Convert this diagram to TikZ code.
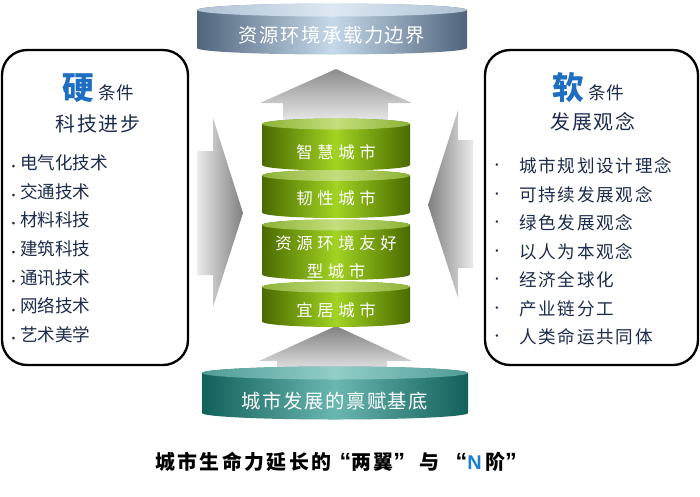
\documentclass[tikz,border=0pt]{standalone}
\usepackage{fontspec}
\setmainfont{Noto Sans CJK SC}
\newfontfamily\quotefont{Liberation Sans}
\usetikzlibrary{positioning}

% 颜色定义
\definecolor{itemnavy}{HTML}{1C2B4C}
\definecolor{headblue}{HTML}{1E6FC2}
\definecolor{nblue}{HTML}{1A7FD4}
\definecolor{slatedark}{HTML}{50647C}
\definecolor{slatelight}{HTML}{C6D9EA}
\definecolor{slatetop}{HTML}{DDE8F2}
\definecolor{olivedark}{HTML}{4A6A00}
\definecolor{olivelight}{HTML}{A2D322}
\definecolor{olivetop}{HTML}{C3DE7C}
\definecolor{olivetopd}{HTML}{8DB236}
\definecolor{tealdark}{HTML}{12605A}
\definecolor{teallight}{HTML}{6AB7B0}
\definecolor{tealtop}{HTML}{93CDC8}

% 标题中的西文引号
\newcommand\capq[1]{{\quotefont\bfseries\fontsize{20}{17}\selectfont#1}}

\begin{document}
\begin{tikzpicture}[x=0.03cm, y=-0.03cm,
  boxframe/.style={draw=black, line width=2pt, rounded corners=0.75cm},
  headchar/.style={text=headblue, font=\fontsize{27}{27}\selectfont\bfseries, inner sep=0pt},
  condtxt/.style={text=itemnavy, font=\fontsize{15}{15}\selectfont, inner sep=0pt},
  subtxt/.style={text=itemnavy, font=\fontsize{17}{17}\selectfont\addfontfeatures{LetterSpace=8}, inner sep=0pt},
  itemtxt/.style={anchor=west, text=itemnavy, font=\fontsize{15}{15}\selectfont, inner sep=0pt},
  ritemtxt/.style={anchor=west, text=itemnavy, font=\fontsize{15}{15}\selectfont\addfontfeatures{LetterSpace=10}, inner sep=0pt},
  disktxt/.style={text=white, font=\fontsize{16.5}{16.5}\selectfont\addfontfeatures{LetterSpace=8}, inner sep=0pt},
  segtxt/.style={text=white, align=center, font=\fontsize{14}{24}\selectfont\addfontfeatures{LetterSpace=28}, inner sep=0pt},
  captiontxt/.style={text=black, font=\fontsize{17}{17}\selectfont\bfseries\addfontfeatures{LetterSpace=12}, inner sep=0pt}
]
  \useasboundingbox (0,0) rectangle (700,496);

  % 参数定义
  \def\Tx{332}  \def\Trx{135} \def\Ttop{10}  \def\Tbot{48}  % 顶部圆盘
  \def\Bx{335}  \def\Brx{133} \def\Btop{373} \def\Bbot{413} % 底部圆盘
  \def\Gx{336}  \def\Grx{74}                                % 绿色柱体
  \def\ry{6.5}

  % 1. 灰色大箭头
  % 上箭头
  \shade[top color=black!45, bottom color=black!3]
    (\Gx,69) -- (412,103) -- (388,103) -- (388,130) -- (283,130) -- (283,103) -- (260,103) -- cycle;
  % 下箭头
  \shade[top color=black!50, bottom color=black!4]
    (\Gx,326) -- (412,361) -- (387,361) -- (387,378) -- (277,378) -- (277,361) -- (259,361) -- cycle;
  % 左箭头
  \shade[left color=black!8, right color=black!50]
    (197,151) -- (213,151) -- (213,118) -- (243,213) -- (213,307) -- (213,275) -- (197,275) -- cycle;
  % 右箭头
  \shade[left color=black!50, right color=black!8]
    (473,140) -- (458,140) -- (458,110) -- (428,205) -- (458,298) -- (458,268) -- (473,268) -- cycle;

  % 2. 顶部圆盘 (资源环境承载力边界)
  \shade[left color=slatedark, right color=slatedark, middle color=slatelight]
    (\Tx-\Trx,\Ttop) -- (\Tx-\Trx,\Tbot)
    arc[start angle=180, end angle=0, x radius=\Trx, y radius=\ry]
    -- (\Tx+\Trx,\Ttop)
    arc[start angle=0, end angle=-180, x radius=\Trx, y radius=\ry] -- cycle;
  \shade[left color=slatelight!80!slatedark, right color=slatelight!80!slatedark, middle color=slatetop]
    (\Tx,\Ttop) ellipse[x radius=\Trx, y radius=\ry];
  \node[disktxt] (bound) at (\Tx,35) {资源环境承载力边界};

  % 3. 底部圆盘 (城市发展的禀赋基底)
  \shade[left color=tealdark, right color=tealdark, middle color=teallight]
    (\Bx-\Brx,\Btop) -- (\Bx-\Brx,\Bbot)
    arc[start angle=180, end angle=0, x radius=\Brx, y radius=\ry]
    -- (\Bx+\Brx,\Btop)
    arc[start angle=0, end angle=-180, x radius=\Brx, y radius=\ry] -- cycle;
  \shade[left color=teallight!70!tealdark, right color=teallight!70!tealdark, middle color=tealtop]
    (\Bx,\Btop) ellipse[x radius=\Brx, y radius=\ry];
  \node[disktxt] (base) at (\Bx,401) {城市发展的禀赋基底};

  % 4. 绿色柱体 (四段)
  \foreach \t/\b in {124/165, 175.5/212.5, 225/274.5, 287/321.5} {
    \shade[left color=olivedark, right color=olivedark, middle color=olivelight]
      (\Gx-\Grx,\t) -- (\Gx-\Grx,\b)
      arc[start angle=180, end angle=0, x radius=\Grx, y radius=5.5]
      -- (\Gx+\Grx,\t)
      arc[start angle=0, end angle=-180, x radius=\Grx, y radius=5.5] -- cycle;
    \shade[left color=olivetopd, right color=olivetopd, middle color=olivetop]
      (\Gx,\t) ellipse[x radius=\Grx, y radius=5.5];
  }
  \node[segtxt] (smart)    at (\Gx,152) {智慧城市};
  \node[segtxt] (resilient) at (\Gx,198) {韧性城市};
  \node[segtxt] (friendly) at (\Gx,257) {资源环境友好\\型城市};
  \node[segtxt] (livable)  at (\Gx,310) {宜居城市};

  % 5. 左侧方框 (硬条件)
  \draw[boxframe] (2,50) rectangle (188,365);
  \node[headchar] (hard) at (78,88) {硬};
  \node[condtxt, anchor=base west] (hardcond) at ([xshift=4pt]hard.base east) {条件};
  \node[subtxt] (tech) at (98,124) {科技进步};
  \foreach \txt [count=\i] in {电气化技术, 交通技术, 材料科技, 建筑科技, 通讯技术, 网络技术, 艺术美学}
    \node[itemtxt] (hitem\i) at (7, 134.3+28.7*\i) {{\fontsize{11}{11}\selectfont\raisebox{-0.3ex}{•}}\txt};

  % 6. 右侧方框 (软条件)
  \draw[boxframe] (485,50) rectangle (698,365);
  \node[headchar] (soft) at (568,87) {软};
  \node[condtxt, anchor=base west] (softcond) at ([xshift=4pt]soft.base east) {条件};
  \node[subtxt] (idea) at (593,122) {发展观念};
  \foreach \txt [count=\i] in {城市规划设计理念, 可持续发展观念, 绿色发展观念, 以人为本观念, 经济全球化, 产业链分工, 人类命运共同体} {
    \node[itemtxt, font=\fontsize{10}{10}\selectfont] (rbul\i) at (491, 138.5+28.5*\i) {•};
    \node[ritemtxt] (ritem\i) at (519, 137.5+28.5*\i) {\txt};
  }

  % 7. 标题
  \node[captiontxt, anchor=west] (caption) at (155,462)
    {城市生命力延长的\hspace{7pt}\capq{“}两翼\capq{”}\hspace{12pt}与\hspace{14pt}\capq{“}{\quotefont\bfseries\color{nblue}N}\hspace{3pt}阶\capq{”}};

\end{tikzpicture}
\end{document}
